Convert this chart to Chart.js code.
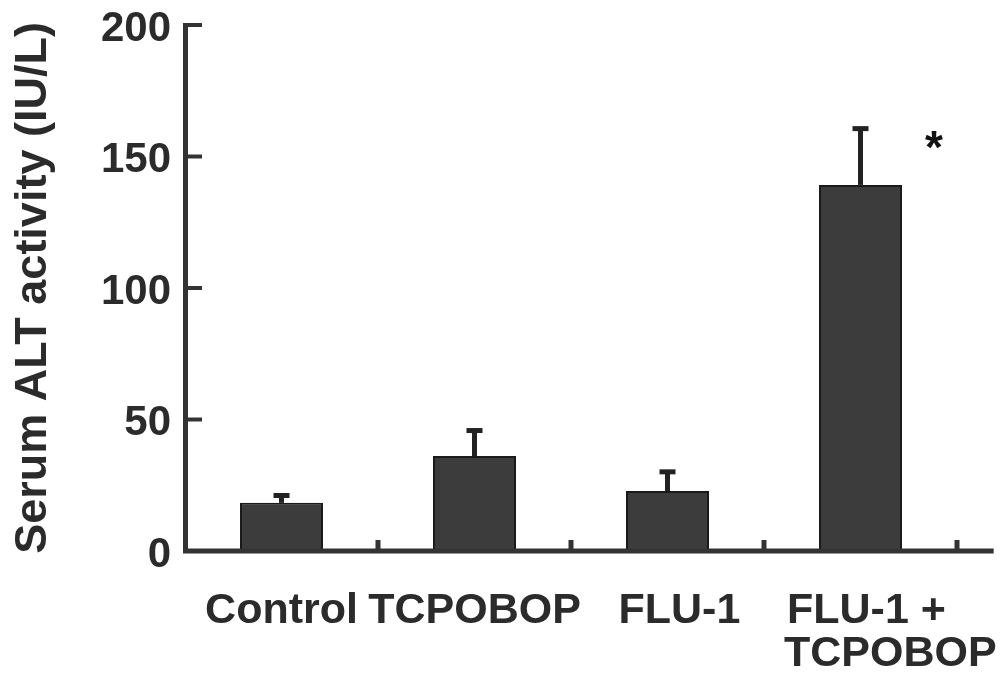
<!DOCTYPE html>
<html><head><meta charset="utf-8">
<script src="https://cdn.jsdelivr.net/npm/chart.js@4"></script>
<style>html,body{margin:0;padding:0;background:#fff;}canvas{display:block;}</style>
</head><body>
<canvas id="c" width="1005" height="674"></canvas>
<script>
const categories = ['Control', 'TCPOBOP', 'FLU-1', 'FLU-1 + TCPOBOP'];
const tickLabels = [['Control'], ['TCPOBOP'], ['  FLU-1'], [' FLU-1 +', '     TCPOBOP']];
const meanValues = [18.3, 36.1, 22.8, 139.2];
const semValues = [2.8, 9.7, 7.3, 21.4];
const significance = ['', '', '', '*'];
const yTicks = [0, 50, 100, 150, 200];
const yTitle = 'Serum ALT activity (IU/L)';

const lineColor = '#333333';
const textColor = '#2b2b2b';
const FONT = "'Liberation Sans', Arial, Helvetica, sans-serif";

const overlay = {
  id: 'overlay',
  afterDatasetsDraw(chart) {
    const {ctx, chartArea, scales: {x, y}} = chart;
    const meta = chart.getDatasetMeta(0);
    const catW = x.getPixelForValue(1) - x.getPixelForValue(0);
    const y0 = y.getPixelForValue(0);
    const seg = (a, b, c, d, w) => { ctx.lineWidth = w; ctx.beginPath(); ctx.moveTo(a, b); ctx.lineTo(c, d); ctx.stroke(); };
    ctx.save();
    ctx.strokeStyle = lineColor;
    ctx.lineCap = 'butt';
    // baseline (extends past last category)
    seg(chartArea.left - 2, y0, x.getPixelForValue(categories.length - 1) + catW * 0.69, y0, 5);
    // inward y ticks
    yTicks.forEach(v => { const py = y.getPixelForValue(v); seg(chartArea.left, py, chartArea.left + 17, py, 4); });
    // upward x ticks at category boundaries
    categories.forEach((c, i) => { const px = x.getPixelForValue(i) + catW / 2; seg(px, y0, px, y0 - 11, 5); });
    // error bars
    meta.data.forEach((bar, i) => {
      const top = y.getPixelForValue(meanValues[i] + semValues[i]);
      ctx.strokeStyle = '#222';
      seg(bar.x, bar.y, bar.x, top, 5);
      seg(bar.x - 8, top, bar.x + 8, top, 5);
    });
    // significance marks
    ctx.fillStyle = '#111';
    ctx.font = "bold 46px " + FONT;
    ctx.textAlign = 'center';
    ctx.textBaseline = 'alphabetic';
    significance.forEach((s, i) => {
      if (!s) return;
      const px = x.getPixelForValue(i) + catW * 0.38;
      const py = y.getPixelForValue(meanValues[i] + semValues[i] - 13);
      ctx.fillText(s, px, py);
    });
    ctx.restore();
  }
};

new Chart(document.getElementById('c'), {
  type: 'bar',
  data: {
    labels: tickLabels,
    datasets: [{
      data: meanValues,
      backgroundColor: '#3c3c3c',
      borderColor: '#1a1a1a',
      borderWidth: 2,
      borderSkipped: false,
      barPercentage: 0.43,
      categoryPercentage: 1
    }]
  },
  options: {
    responsive: false,
    animation: false,
    events: [],
    layout: { padding: { top: 25, right: 48, left: 0, bottom: 0 } },
    plugins: { legend: { display: false }, tooltip: { enabled: false } },
    scales: {
      x: {
        grid: { display: false, drawTicks: false },
        border: { display: false },
        ticks: {
          color: textColor, padding: 39, maxRotation: 0, autoSkip: false,
          font: { family: FONT, size: 43, weight: 'bold', lineHeight: 1.0 }
        },
        afterFit(s) { s.height = 123; s.paddingLeft = 0; s.paddingRight = 0; }
      },
      y: {
        min: 0, max: 200,
        grid: { display: false, drawTicks: false },
        border: { display: true, color: lineColor, width: 5 },
        ticks: {
          stepSize: 50, color: textColor, padding: 14, labelOffset: 4,
          font: { family: FONT, size: 42, weight: 'bold' },
          callback: (v) => yTicks.includes(v) ? String(v) : ''
        },
        title: {
          display: true, text: yTitle, color: textColor,
          font: { family: FONT, size: 45, weight: 'bold', lineHeight: 1.0 },
          padding: { top: 11, bottom: 0 }
        },
        afterFit(s) { s.width = 185; s.paddingTop = 0; s.paddingBottom = 0; }
      }
    }
  },
  plugins: [overlay]
});
</script>
</body></html>
